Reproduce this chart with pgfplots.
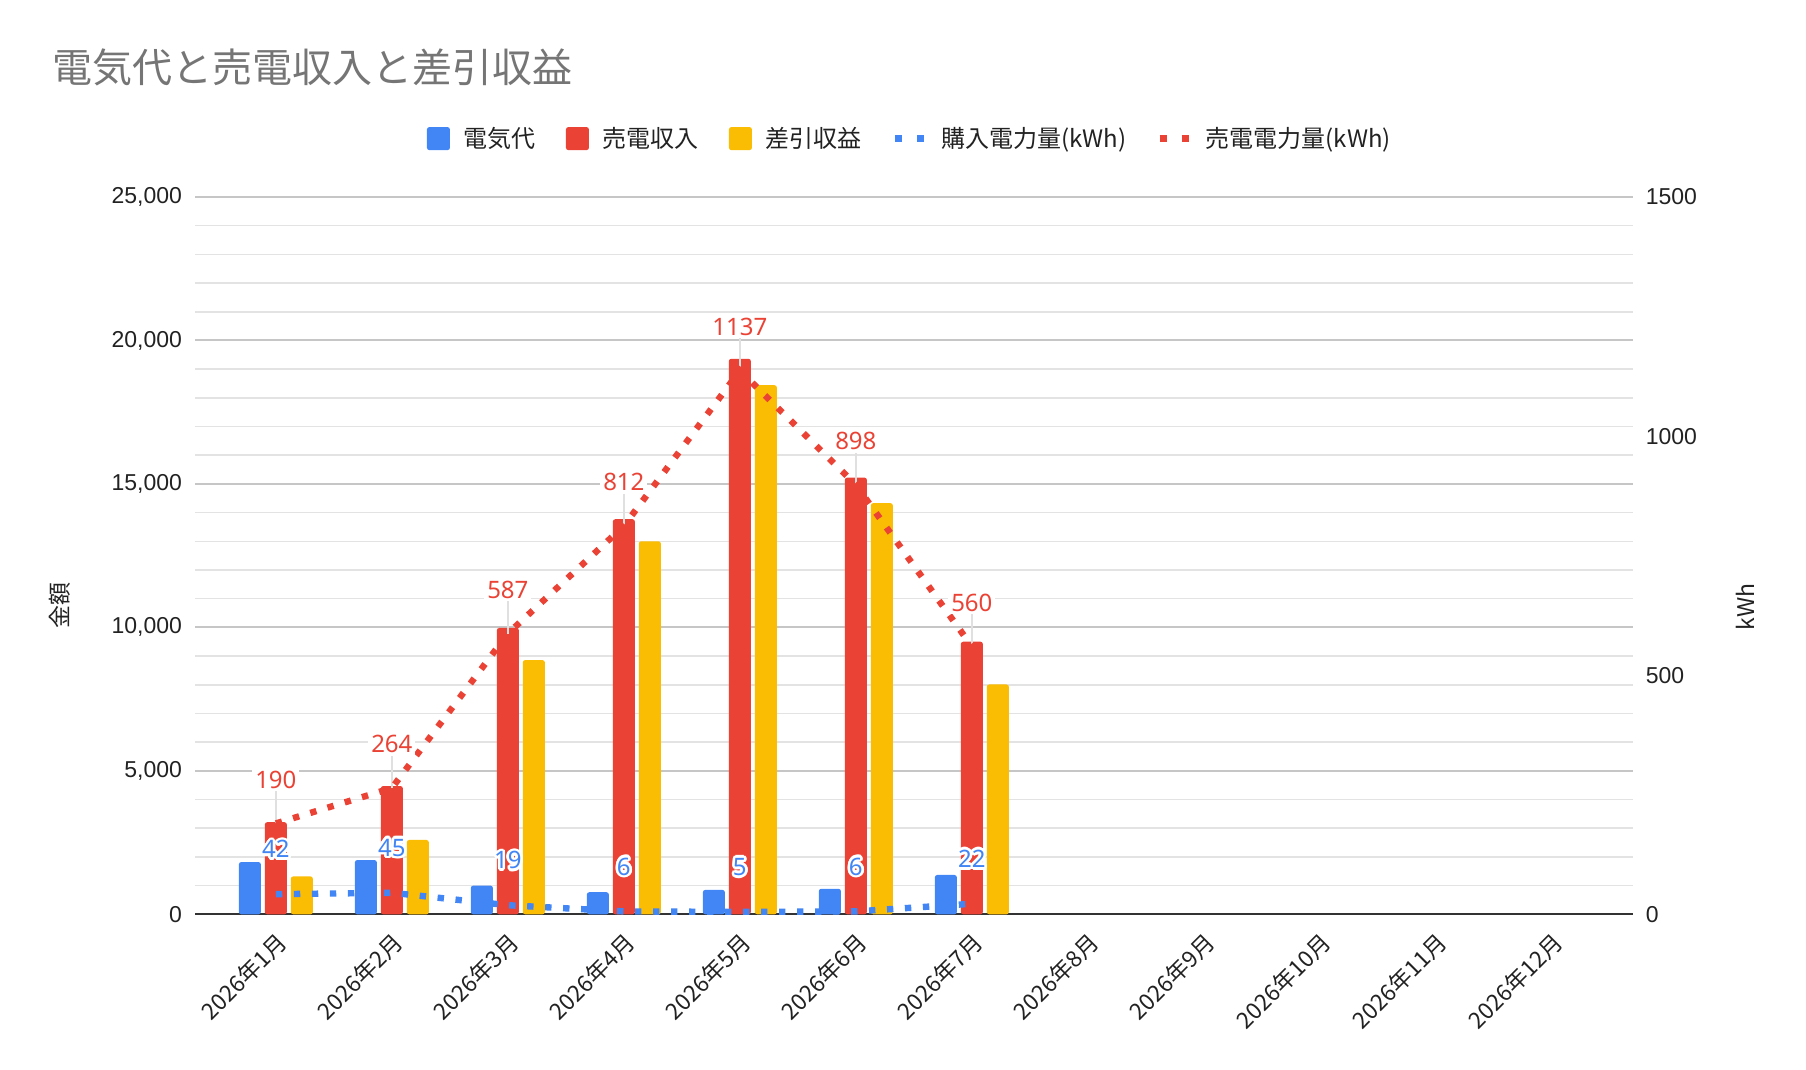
\documentclass[border=0pt]{standalone}
\usepackage{pgfplots}
\pgfplotsset{compat=1.18}
\usepackage{pgfplotstable}
\usepackage{fontspec}
\setmainfont{Liberation Sans}
\newfontfamily\cjk{Noto Sans CJK JP}
\newfontfamily\lbl{Noto Sans}
\usepackage[copies]{contour}
\contourlength{1.3pt}
\definecolor{gblue}{HTML}{4285F4}
\definecolor{gred}{HTML}{EA4335}
\definecolor{gyellow}{HTML}{FBBC04}
\definecolor{titlegray}{HTML}{757575}
\definecolor{majgrid}{HTML}{C6C6C6}
\definecolor{mingrid}{HTML}{E3E3E3}
\definecolor{axisdark}{HTML}{333333}
\definecolor{txt}{HTML}{222222}
\definecolor{leader}{HTML}{E0E0E0}

\pgfplotstableread{
x den bai sa
0 1820 3210 1320
1 1890 4470 2590
2 1000 9980 8860
3 770 13770 13000
4 850 19360 18440
5 890 15220 14330
6 1370 9500 8010
}\bars

\pgfplotstableread{
x kou bai
0 42 190
1 45 264
2 19 587
3 6 812
4 5 1137
5 6 898
6 22 560
}\lines

\pgfplotsset{
  base/.style={
    scale only axis, width=718.85pt, height=358.65pt,
    at={(97.5pt,77.85pt)}, anchor=south west,
    xmin=-0.697, xmax=11.697,
    /pgf/number format/assume math mode=true,
    tick style={draw=none},
    major tick length=0pt, minor tick length=0pt,
    scaled y ticks=false,
  },
  barsq/.style={legend image code/.code={\fill[##1, rounded corners=1.2pt] (0pt,-5.75pt) rectangle (11.5pt,5.75pt);}},
  dotleg/.style={legend image code/.code={\draw[##1, dash pattern=on 3.5pt off 7.5pt] (0pt,0pt) -- (14.5pt,0pt);}},
}

\begin{document}
\begin{tikzpicture}
\useasboundingbox (0,0) rectangle (903pt,535pt);
\begin{axis}[base,
  ymin=0, ymax=25000,
  ytick={0,5000,...,25000},
  minor y tick num=4,
  ymajorgrids, yminorgrids,
  major grid style={draw=majgrid, line width=1pt},
  minor grid style={draw=mingrid, line width=0.75pt},
  axis x line*=bottom, axis y line*=left,
  x axis line style={draw=axisdark, line width=1pt},
  y axis line style={draw=none},
  xtick={0,...,11},
  xticklabels={2026年1月,2026年2月,2026年3月,2026年4月,2026年5月,2026年6月,2026年7月,2026年8月,2026年9月,2026年10月,2026年11月,2026年12月},
  xticklabel style={font=\cjk\fontsize{11.4}{13}\selectfont, text=txt, inner sep=0pt, xshift=-0.5pt, yshift=-8pt, rotate=45, anchor=north east},
  yticklabel style={font=\fontsize{11.5}{13}\selectfont, text=txt, xshift=-3pt},
  /pgf/number format/1000 sep={,},
  legend columns=-1,
  legend style={at={(0.4966,1.0814)}, anchor=center, draw=none, fill=none,
    font=\cjk\fontsize{12}{14}\selectfont, text=txt,
    nodes={inner sep=0pt},
    /tikz/every odd column/.append style={column sep=7pt},
    /tikz/every even column/.append style={column sep=15pt}},
]
\addplot[ybar, bar width=0.19, bar shift=-0.224, fill=gblue, draw=none, rounded corners=1.2pt, barsq] table[x=x,y=den]{\bars};
\addlegendentry{電気代}
\addplot[ybar, bar width=0.19, bar shift=0, fill=gred, draw=none, rounded corners=1.2pt, barsq] table[x=x,y=bai]{\bars};
\addlegendentry{売電収入}
\addplot[ybar, bar width=0.19, bar shift=0.224, fill=gyellow, draw=none, rounded corners=1.2pt, barsq] table[x=x,y=sa]{\bars};
\addlegendentry{差引収益}
\addlegendimage{draw=gblue, line width=3.2pt, dotleg}
\addlegendentry{購入電力量(kWh)}
\addlegendimage{draw=gred, line width=3.2pt, dotleg}
\addlegendentry{売電電力量(kWh)}
\end{axis}

\begin{axis}[base,
  ymin=0, ymax=1500,
  ytick={0,500,1000,1500},
  axis y line*=right,
  y axis line style={draw=none},
  hide x axis,
  /pgf/number format/1000 sep={},
  yticklabel style={font=\fontsize{11.5}{13}\selectfont, text=txt, xshift=3pt},
]
% leader lines of the sold-energy labels
\addplot[draw=none, mark=none, forget plot,
  error bars/.cd, y dir=plus, y fixed=80, error mark=none,
  error bar style={draw=leader, line width=1pt, solid}] table[x=x,y=bai]{\lines};
% sold energy
\addplot[draw=gred, line width=3.2pt, dash pattern=on 3.2pt off 5.8pt, mark=none,
  nodes near coords, point meta=y,
  every node near coord/.append style={anchor=center, yshift=22pt, fill=white, inner sep=1.5pt, text=gred, solid, font=\lbl\fontsize{12}{14}\selectfont}] table[x=x,y=bai]{\lines};
% purchased energy
\addplot[draw=gblue, line width=3.2pt, dash pattern=on 3.2pt off 5.8pt, mark=none,
  nodes near coords={\contour{white}{\pgfmathprintnumber{\pgfplotspointmeta}}}, point meta=y,
  every node near coord/.append style={anchor=center, yshift=21.8pt, inner sep=0pt, text=gblue, font=\lbl\fontsize{12}{14}\selectfont}] table[x=x,y=kou]{\lines};
\end{axis}

\node[anchor=west, inner sep=0pt, text=titlegray, font=\cjk\fontsize{20}{24}\selectfont] at (26pt,501.25pt) {電気代と売電収入と差引収益};
\node[rotate=90, inner sep=0pt, text=txt, font=\cjk\fontsize{11.5}{13}\selectfont] at (30pt,232pt) {金額};
\node[rotate=90, inner sep=0pt, text=txt, font=\cjk\fontsize{11.5}{13}\selectfont] at (872.5pt,231.7pt) {kWh};
\end{tikzpicture}
\end{document}
